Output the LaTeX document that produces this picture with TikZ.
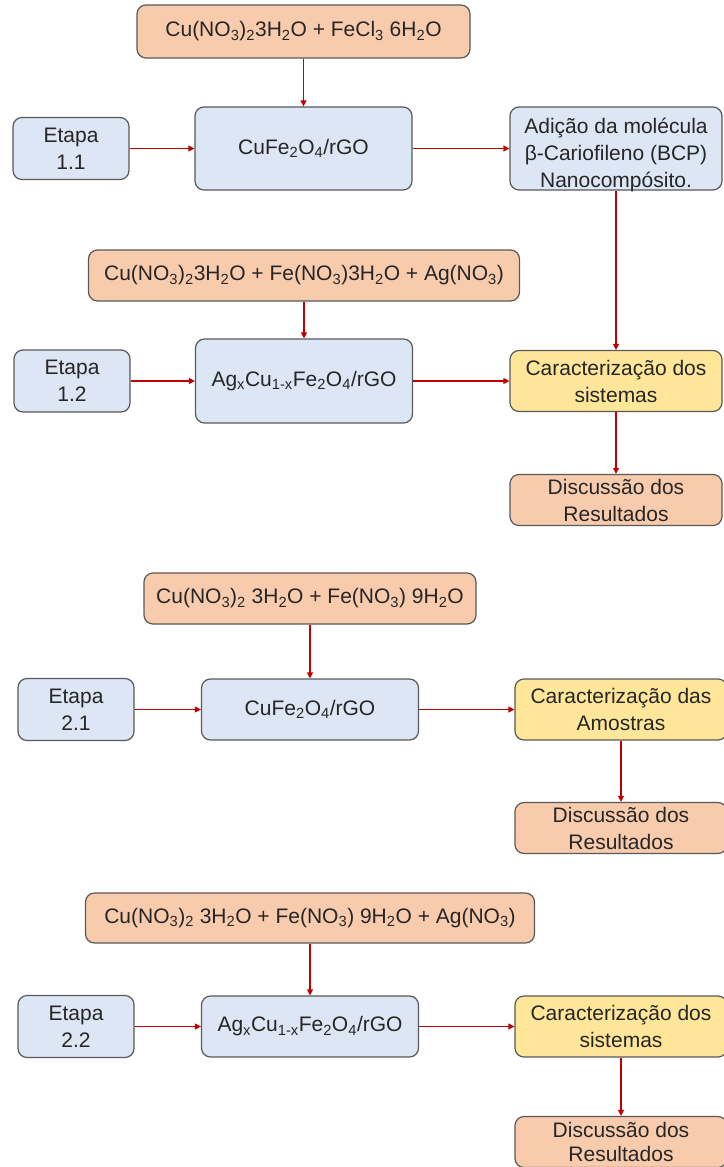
\documentclass[tikz,border=0pt]{standalone}
\usepackage{fontspec}
\setmainfont{Liberation Sans}
\usetikzlibrary{arrows.meta}

\definecolor{boxorange}{HTML}{F8CBAD}
\definecolor{boxblue}{HTML}{DCE6F4}
\definecolor{boxyellow}{HTML}{FFE699}
\definecolor{boxline}{HTML}{595959}
\definecolor{arrowred}{HTML}{C00000}

\newcommand{\sbs}[1]{\textsubscript{#1}}

\begin{document}
\begin{tikzpicture}[
		x=1pt,
		y=-1pt,
		font=\fontsize{21}{27}\selectfont,
		>={Triangle[length=6pt,width=6pt]},
		blk/.style={draw=boxline, line width=1.2pt, rounded corners=9pt, align=center, inner sep=0pt, text=black!85},
		reag/.style={blk, fill=boxorange},
		etapa/.style={blk, fill=boxblue, minimum width=116pt, minimum height=62pt},
		prod/.style={blk, fill=boxblue, minimum width=217pt},
		carac/.style={blk, fill=boxyellow, minimum width=212pt, minimum height=61pt},
		disc/.style={blk, fill=boxorange, minimum width=212pt, minimum height=51pt},
		flow/.style={->, draw=arrowred, line width=1.2pt}
		]
		
		\useasboundingbox (0,0) rectangle (723,1167);
		
		% Etapa 1.1
		\node[reag, minimum width=333pt, minimum height=53pt] (r1) at (303.5,31.5)
		{Cu(NO\sbs{3})\sbs{2}3H\sbs{2}O + FeCl\sbs{3} 6H\sbs{2}O};
		\node[etapa] (e1) at (71,148.5) {Etapa\\1.1};
		\node[prod, minimum height=83pt] (p1) at (303.5,148.5) {CuFe\sbs{2}O\sbs{4}/rGO};
		\node[blk, fill=boxblue, minimum width=212pt, minimum height=83pt,
		label={[align=center, text=black!85, yshift=-6pt]center:{Adição da molécula\\β-Cariofileno (BCP)\\Nanocompósito.}}]
		(bcp) at (616,148.5) {};
		
		\draw[flow] (r1) -- (p1);
		\draw[flow] (e1) -- (p1);
		\draw[flow] (p1) -- (bcp);
		
		% Etapa 1.2
		\node[reag, minimum width=431pt, minimum height=51pt] (r2) at (304,275.5)
		{Cu(NO\sbs{3})\sbs{2}3H\sbs{2}O + Fe(NO\sbs{3})3H\sbs{2}O + Ag(NO\sbs{3})};
		\node[etapa] (e2) at (72,381) {Etapa\\1.2};
		\node[prod, minimum height=84pt] (p2) at (304,381) {Ag\sbs{x}Cu\sbs{1-x}Fe\sbs{2}O\sbs{4}/rGO};
		\node[carac] (c1) at (616,381) {Caracterização dos\\sistemas};
		\node[disc] (d1) at (616,500) {Discussão dos\\Resultados};
		
		\draw[flow] (bcp) -- (c1);
		\draw[flow] (r2) -- (p2);
		\draw[flow] (e2) -- (p2);
		\draw[flow] (p2) -- (c1);
		\draw[flow] (c1) -- (d1);
		
		% Etapa 2.1
		\node[reag, minimum width=332pt, minimum height=51pt] (r3) at (310,598.5)
		{Cu(NO\sbs{3})\sbs{2} 3H\sbs{2}O + Fe(NO\sbs{3}) 9H\sbs{2}O};
		\node[etapa] (e3) at (76,709.5) {Etapa\\2.1};
		\node[prod, minimum height=61pt] (p3) at (310,709.5) {CuFe\sbs{2}O\sbs{4}/rGO};
		\node[carac] (c2) at (621,709.5) {Caracterização das\\Amostras};
		\node[disc] (d2) at (621,828) {Discussão dos\\Resultados};
		
		\draw[flow] (r3) -- (p3);
		\draw[flow] (e3) -- (p3);
		\draw[flow] (p3) -- (c2);
		\draw[flow] (c2) -- (d2);
		
		% Etapa 2.2
		\node[reag, minimum width=449pt, minimum height=50pt] (r4) at (310,918)
		{Cu(NO\sbs{3})\sbs{2} 3H\sbs{2}O + Fe(NO\sbs{3}) 9H\sbs{2}O + Ag(NO\sbs{3})};
		\node[etapa] (e4) at (76,1026.5) {Etapa\\2.2};
		\node[prod, minimum height=61pt] (p4) at (310,1026.5) {Ag\sbs{x}Cu\sbs{1-x}Fe\sbs{2}O\sbs{4}/rGO};
		\node[carac] (c3) at (621,1026.5) {Caracterização dos\\sistemas};
		\node[disc, font=\fontsize{21}{24}\selectfont] (d3) at (621,1142) {Discussão dos\\Resultados};
		
		\draw[flow] (r4) -- (p4);
		\draw[flow] (e4) -- (p4);
		\draw[flow] (p4) -- (c3);
		\draw[flow] (c3) -- (d3);
		
	\end{tikzpicture}
\end{document}
